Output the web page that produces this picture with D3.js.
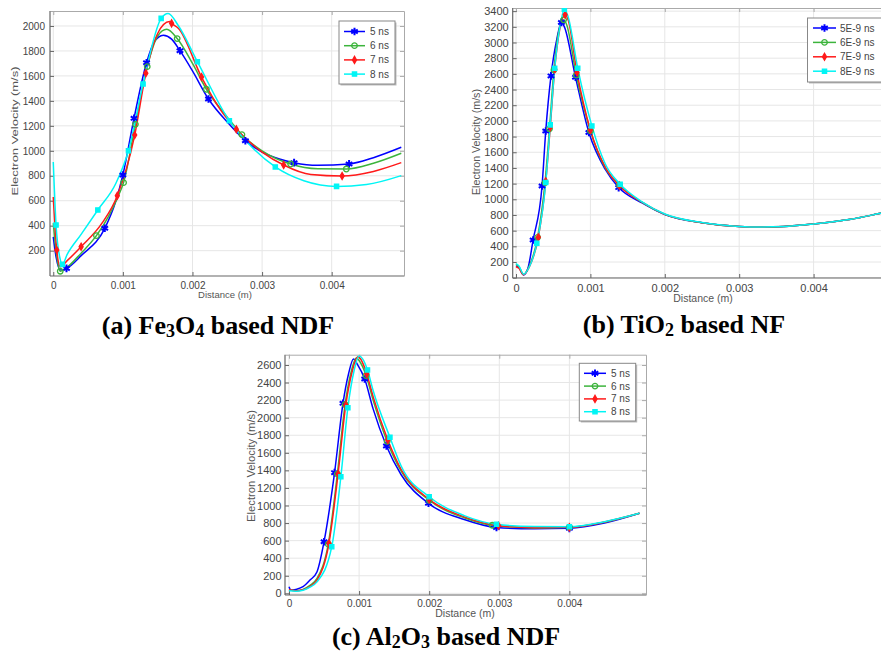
<!DOCTYPE html>
<html>
<head>
<meta charset="utf-8">
<script src="https://cdn.jsdelivr.net/npm/d3@7"></script>
<style>
  body { margin: 0; background: #fff; }
  svg { display: block; font-family: "Liberation Sans", Arial, sans-serif; }
  .grid line { stroke: #e6e6e6; stroke-width: 1; }
  .axis text { fill: #444; }
  .axis line { stroke: #666; }
  .axis path { stroke: #666; stroke-width: 1.2; }
  .frame line { stroke: #aaa; }
  .frame path { stroke: #aaa; }
  .label { fill: #555; }
  .caption { font-family: "Liberation Serif", "Times New Roman", serif; font-weight: bold; fill: #000; }
</style>
</head>
<body>
<svg width="881" height="653"></svg>
<script>
// ---- data ----
var xTicks = [0, 0.001, 0.002, 0.003, 0.004];
var xTickLabels = ['0', '0.001', '0.002', '0.003', '0.004'];
var feYTicks = [200, 400, 600, 800, 1000, 1200, 1400, 1600, 1800, 2000];
var tiYTicks = [0, 200, 400, 600, 800, 1000, 1200, 1400, 1600, 1800, 2000, 2200, 2400, 2600, 2800, 3000, 3200, 3400];
var alYTicks = [0, 200, 400, 600, 800, 1000, 1200, 1400, 1600, 1800, 2000, 2200, 2400, 2600];

var nsNames = ['5 ns', '6 ns', '7 ns', '8 ns'];
var tiNames = ['5E-9 ns', '6E-9 ns', '7E-9 ns', '8E-9 ns'];
var colors = ['#0000ff', '#3cb43c', '#ff1a1a', '#00f5f5'];

// (a) Fe3O4
var fe5 = [[0,310],[0.00004,150],[0.0001,45],[0.00019,58],[0.0004,160],[0.00074,379],[0.0009,600],[0.001,806],[0.00116,1260],[0.00134,1706],[0.00145,1870],[0.00158,1925],[0.0017,1895],[0.00182,1802],[0.002,1640],[0.00223,1415],[0.0025,1230],[0.00276,1081],[0.003,990],[0.00325,935],[0.00346,905],[0.0038,884],[0.00425,895],[0.0046,945],[0.005,1028]];
var fe6 = [[0,420],[0.00004,200],[0.0001,35],[0.00017,55],[0.0004,180],[0.00062,320],[0.0008,480],[0.00092,620],[0.00101,745],[0.00118,1212],[0.00135,1674],[0.0015,1920],[0.00163,1973],[0.00178,1899],[0.002,1700],[0.0022,1493],[0.0025,1270],[0.00271,1129],[0.003,1000],[0.00341,894],[0.0038,856],[0.00421,854],[0.0046,900],[0.005,980]];
var fe7 = [[0,630],[0.00005,205],[0.0001,72],[0.0002,120],[0.0004,232],[0.0007,420],[0.00092,640],[0.00117,1126],[0.00133,1621],[0.0015,1940],[0.00167,2035],[0.0017,2021],[0.0018,1980],[0.00213,1591],[0.0024,1330],[0.00263,1172],[0.003,990],[0.00331,886],[0.0037,810],[0.00415,798],[0.0046,835],[0.005,905]];
var fe8 = [[0,910],[0.00004,405],[0.0001,130],[0.00013,90],[0.0002,170],[0.0004,330],[0.00064,526],[0.0009,740],[0.00108,1001],[0.00129,1535],[0.00155,2061],[0.00165,2100],[0.0018,2000],[0.00207,1714],[0.00253,1241],[0.0028,1060],[0.00319,871],[0.0036,760],[0.00407,715],[0.0045,730],[0.005,801]];
var fe5Marks = [0.00019, 0.00074, 0.001, 0.00116, 0.00134, 0.00182, 0.00223, 0.00276, 0.00346, 0.00425];
var fe6Marks = [0.0001, 0.00062, 0.00101, 0.00118, 0.00135, 0.00178, 0.0022, 0.00271, 0.00341, 0.00421];
var fe7Marks = [0.00005, 0.0004, 0.00092, 0.00117, 0.00133, 0.0017, 0.00213, 0.00263, 0.00331, 0.00415];
var fe8Marks = [0.00004, 0.00013, 0.00064, 0.00108, 0.00129, 0.00155, 0.00207, 0.00253, 0.00319, 0.00407];

// (b) TiO2
var ti5 = [[0,150],[0.00004,130],[0.0001,35],[0.00016,120],[0.00023,481],[0.00035,1170],[0.0004,1872],[0.00047,2574],[0.00055,3050],[0.00061,3255],[0.00065,3200],[0.0008,2557],[0.00098,1851],[0.0012,1380],[0.00138,1149],[0.0017,950],[0.002,805],[0.0025,700],[0.003,652],[0.0033,645],[0.0036,652],[0.004,685],[0.0045,745],[0.0049,821],[0.005,840]];
var ti6 = [[0,170],[0.00004,140],[0.0001,40],[0.00017,130],[0.00029,515],[0.00039,1213],[0.00045,1900],[0.00051,2651],[0.00057,3120],[0.00064,3289],[0.00068,3230],[0.00081,2583],[0.001,1872],[0.0012,1400],[0.00139,1179],[0.0017,958],[0.002,808],[0.0025,701],[0.003,652],[0.0033,645],[0.0036,652],[0.004,685],[0.0045,745],[0.0049,821],[0.005,840]];
var ti7 = [[0,140],[0.00004,120],[0.0001,38],[0.00018,140],[0.0003,515],[0.0004,1230],[0.00046,1920],[0.00052,2660],[0.00059,3180],[0.00066,3353],[0.0007,3290],[0.00082,2617],[0.001,1885],[0.0012,1410],[0.00139,1174],[0.0017,960],[0.002,810],[0.0025,702],[0.003,653],[0.0033,646],[0.0036,652],[0.004,685],[0.0045,745],[0.0049,821],[0.005,840]];
var ti8 = [[0,180],[0.00004,150],[0.0001,45],[0.00018,140],[0.00028,438],[0.0004,1213],[0.00046,1949],[0.00052,2672],[0.0006,3250],[0.00065,3425],[0.0007,3330],[0.00083,2672],[0.00102,1936],[0.0012,1450],[0.0014,1191],[0.0017,965],[0.002,812],[0.0025,703],[0.003,654],[0.0033,646],[0.0036,652],[0.004,685],[0.0045,745],[0.0049,821],[0.005,840]];
var ti5Marks = [0.00023, 0.00035, 0.0004, 0.00047, 0.00061, 0.0008, 0.00098, 0.00138];
var ti6Marks = [0.00029, 0.00039, 0.00045, 0.00051, 0.00064, 0.00081, 0.001, 0.00139];
var ti7Marks = [0.0003, 0.0004, 0.00046, 0.00052, 0.00066, 0.00082, 0.001, 0.00139];
var ti8Marks = [0.00028, 0.0004, 0.00046, 0.00052, 0.00065, 0.00083, 0.00102, 0.0014];

// (c) Al2O3
var al5 = [[0,76],[0.00003,35],[0.0001,45],[0.0002,75],[0.0003,151],[0.0004,246],[0.0005,588],[0.00065,1374],[0.00077,2163],[0.00085,2500],[0.00092,2668],[0.00098,2600],[0.00108,2440],[0.0012,2100],[0.00139,1677],[0.0016,1350],[0.00199,1025],[0.0025,840],[0.00296,750],[0.0035,735],[0.004,740],[0.0045,800],[0.005,911]];
var al6 = [[0,40],[0.0001,30],[0.0002,45],[0.0003,90],[0.0004,170],[0.00056,560],[0.00069,1360],[0.0008,2150],[0.00088,2500],[0.00096,2680],[0.001,2650],[0.0011,2480],[0.0012,2200],[0.0014,1730],[0.0016,1390],[0.002,1060],[0.0025,860],[0.0029,775],[0.0035,745],[0.004,752],[0.0045,810],[0.005,911]];
var al7 = [[0,40],[0.0001,30],[0.0002,40],[0.0003,80],[0.0004,150],[0.00057,569],[0.0007,1359],[0.00081,2144],[0.0009,2520],[0.00098,2694],[0.00102,2670],[0.00111,2497],[0.0012,2240],[0.00141,1746],[0.0016,1410],[0.002,1070],[0.0025,870],[0.00299,770],[0.0035,748],[0.004,751],[0.0045,812],[0.005,911]];
var al8 = [[0,30],[0.0001,25],[0.0002,35],[0.0003,70],[0.0004,130],[0.00061,531],[0.00074,1328],[0.00084,2114],[0.00093,2540],[0.001,2702],[0.00105,2670],[0.00112,2543],[0.0012,2310],[0.00144,1776],[0.0016,1450],[0.002,1100],[0.0025,885],[0.00296,786],[0.0035,760],[0.004,759],[0.0045,815],[0.005,911]];
var al5Marks = [0.0005, 0.00065, 0.00077, 0.00108, 0.00139, 0.00199, 0.00296, 0.004];
var al6Marks = [0.00056, 0.00069, 0.0008, 0.0011, 0.0014, 0.002, 0.0029, 0.004];
var al7Marks = [0.00057, 0.0007, 0.00081, 0.00111, 0.00141, 0.002, 0.00299, 0.004];
var al8Marks = [0.00061, 0.00074, 0.00084, 0.00112, 0.00144, 0.002, 0.00296, 0.004];

// ---- drawing ----
var svg = d3.select('svg');
var symbols = [d3.symbolAsterisk, d3.symbolCircle, d3.symbolDiamond, d3.symbolSquare];
var symSizes = [40, 24, 14, 18];

function drawMarker(sel, i) {
  sel.attr('d', d3.symbol().type(symbols[i]).size(symSizes[i])())
    .attr('stroke', colors[i])
    .attr('stroke-width', i == 0 ? 2 : 1.3)
    .attr('fill', i == 1 ? 'none' : colors[i]);
}

function drawPanel(p) {
  var x = d3.scaleLinear().domain(p.xDomain).range([p.left, p.right]);
  var y = d3.scaleLinear().domain(p.yDomain).range([p.bottom, p.top]);
  var g = svg.append('g');

  svg.append('clipPath').attr('id', 'clip-' + p.id)
    .append('rect')
    .attr('x', p.left).attr('y', p.top)
    .attr('width', p.right - p.left).attr('height', p.bottom - p.top);

  // grid
  var grid = g.append('g').attr('class', 'grid');
  grid.selectAll('.gx').data(xTicks).enter().append('line')
    .attr('x1', function(d) { return x(d); }).attr('x2', function(d) { return x(d); })
    .attr('y1', p.top).attr('y2', p.bottom);
  grid.selectAll('.gy').data(p.yTicks).enter().append('line')
    .attr('y1', function(d) { return y(d); }).attr('y2', function(d) { return y(d); })
    .attr('x1', p.left).attr('x2', p.right);

  // light frame on top / right with inward ticks
  g.append('g').attr('class', 'frame')
    .attr('transform', 'translate(0,' + p.top + ')')
    .call(d3.axisTop(x).tickValues(xTicks).tickFormat('').tickSizeInner(-4).tickSizeOuter(0));
  g.append('g').attr('class', 'frame')
    .attr('transform', 'translate(' + p.right + ',0)')
    .call(d3.axisRight(y).tickValues(p.yTicks).tickFormat('').tickSizeInner(-4).tickSizeOuter(0));

  // main axes
  var ax = g.append('g').attr('class', 'axis')
    .attr('transform', 'translate(0,' + p.bottom + ')')
    .call(d3.axisBottom(x).tickValues(xTicks)
      .tickFormat(function(d, i) { return xTickLabels[i]; })
      .tickSizeInner(-4).tickSizeOuter(0).tickPadding(p.xPad));
  ax.selectAll('text').style('font-size', p.xFont + 'px');
  var ay = g.append('g').attr('class', 'axis')
    .attr('transform', 'translate(' + p.left + ',0)')
    .call(d3.axisLeft(y).tickValues(p.yTicks).tickFormat(d3.format('d'))
      .tickSizeInner(-4).tickSizeOuter(0).tickPadding(p.yPad));
  ay.selectAll('text').style('font-size', p.yFont + 'px');
  ax.select('.domain').attr('d', 'M' + (p.left) + ',0H' + p.right);
  ay.select('.domain').attr('d', 'M0,' + p.top + 'V' + p.bottom);

  // series
  var line = d3.line()
    .x(function(d) { return x(d[0]); })
    .y(function(d) { return y(d[1]); })
    .curve(d3.curveMonotoneX);
  var plot = g.append('g').attr('clip-path', 'url(#clip-' + p.id + ')');
  p.series.forEach(function(s, i) {
    plot.append('path').datum(s)
      .attr('fill', 'none')
      .attr('stroke', colors[i])
      .attr('stroke-width', 1.5)
      .attr('d', line);
  });
  p.series.forEach(function(s, i) {
    var pts = p.marks[i].map(function(mx) {
      return s.find(function(q) { return q[0] === mx; });
    });
    plot.selectAll('.m' + i).data(pts).enter().append('path')
      .attr('transform', function(d) { return 'translate(' + x(d[0]) + ',' + y(d[1]) + ')'; })
      .call(drawMarker, i);
  });

  // axis titles
  g.append('text').attr('class', 'label')
    .attr('x', p.xLabel[0]).attr('y', p.xLabel[1])
    .attr('text-anchor', 'middle')
    .style('font-size', p.labelFont + 'px')
    .text('Distance (m)');
  g.append('text').attr('class', 'label')
    .attr('transform', 'translate(' + p.yLabel[0] + ',' + p.yLabel[1] + ') rotate(-90)')
    .attr('text-anchor', 'middle')
    .style('font-size', p.labelFont + 'px')
    .attr('textLength', p.yLabel[2])
    .attr('lengthAdjust', 'spacingAndGlyphs')
    .text('Electron Velocity (m/s)');

  // legend
  var L = p.legend;
  g.append('rect')
    .attr('x', L.x + 1.5).attr('y', L.y + 1.5).attr('width', L.w).attr('height', L.h)
    .attr('fill', '#bbb');
  g.append('rect')
    .attr('x', L.x).attr('y', L.y).attr('width', L.w).attr('height', L.h)
    .attr('fill', '#fff').attr('stroke', '#888').attr('stroke-width', 1);
  var items = g.selectAll('.leg-' + p.id).data(p.names).enter().append('g')
    .attr('transform', function(d, i) { return 'translate(0,' + (L.y + L.first + i * L.step) + ')'; });
  items.append('line')
    .attr('x1', L.lx0).attr('x2', L.lx1)
    .attr('stroke', function(d, i) { return colors[i]; })
    .attr('stroke-width', 1.5);
  items.append('path')
    .attr('transform', 'translate(' + ((L.lx0 + L.lx1) / 2) + ',0)')
    .each(function(d, i) { d3.select(this).call(drawMarker, i); });
  items.append('text')
    .attr('x', L.tx).attr('dy', '0.35em')
    .style('font-size', '10px').attr('fill', '#444')
    .text(function(d) { return d; });

  // caption
  var c = g.append('text').attr('class', 'caption')
    .attr('x', p.caption.x).attr('y', p.caption.y)
    .attr('text-anchor', 'middle')
    .style('font-size', '26px');
  p.caption.parts.forEach(function(part) {
    var t = c.append('tspan').text(part[0]);
    if (part[1]) t.attr('dy', 3).style('font-size', '18px');
    else if (part[2]) t.attr('dy', -3);
  });
}

drawPanel({
  id: 'a', left: 50, right: 404, top: 11, bottom: 276,
  xDomain: [-0.000047, 0.005039], yDomain: [-3, 2120],
  yTicks: feYTicks, xFont: 10, yFont: 10, xPad: 6, yPad: 5,
  series: [fe5, fe6, fe7, fe8], marks: [fe5Marks, fe6Marks, fe7Marks, fe8Marks],
  names: nsNames, labelFont: 9.5,
  xLabel: [225, 298], yLabel: [18, 131, 129],
  legend: { x: 339, y: 21, w: 56, h: 63, first: 10.5, step: 14.2, lx0: 344, lx1: 365, tx: 370 },
  caption: { x: 218, y: 334, parts: [['(a) Fe'], ['3', 1], ['O', 0, 1], ['4', 1], [' based NDF', 0, 1]] }
});

drawPanel({
  id: 'b', left: 512.7, right: 892, top: 8, bottom: 278,
  xDomain: [-0.0000444, 0.005054], yDomain: [-4, 3440],
  yTicks: tiYTicks, xFont: 11, yFont: 11, xPad: 6, yPad: 4,
  series: [ti5, ti6, ti7, ti8], marks: [ti5Marks, ti6Marks, ti7Marks, ti8Marks],
  names: tiNames, labelFont: 10.5,
  xLabel: [703, 302], yLabel: [480, 142, 106],
  legend: { x: 807.5, y: 18, w: 80, h: 64, first: 10, step: 14.4, lx0: 813, lx1: 836, tx: 840 },
  caption: { x: 684, y: 333, parts: [['(b) TiO'], ['2', 1], [' based NF', 0, 1]] }
});

drawPanel({
  id: 'c', left: 285, right: 646, top: 354.7, bottom: 595,
  xDomain: [-0.000057, 0.005093], yDomain: [-19, 2717],
  yTicks: alYTicks, xFont: 10, yFont: 11, xPad: 5, yPad: 3.5,
  series: [al5, al6, al7, al8], marks: [al5Marks, al6Marks, al7Marks, al8Marks],
  names: nsNames, labelFont: 10.5,
  xLabel: [465, 617], yLabel: [254.5, 466, 112],
  legend: { x: 579.3, y: 363.3, w: 56.4, h: 57.7, first: 10, step: 12.8, lx0: 584, lx1: 606, tx: 611 },
  caption: { x: 446, y: 645, parts: [['(c) Al'], ['2', 1], ['O', 0, 1], ['3', 1], [' based NDF', 0, 1]] }
});
</script>
</body>
</html>
